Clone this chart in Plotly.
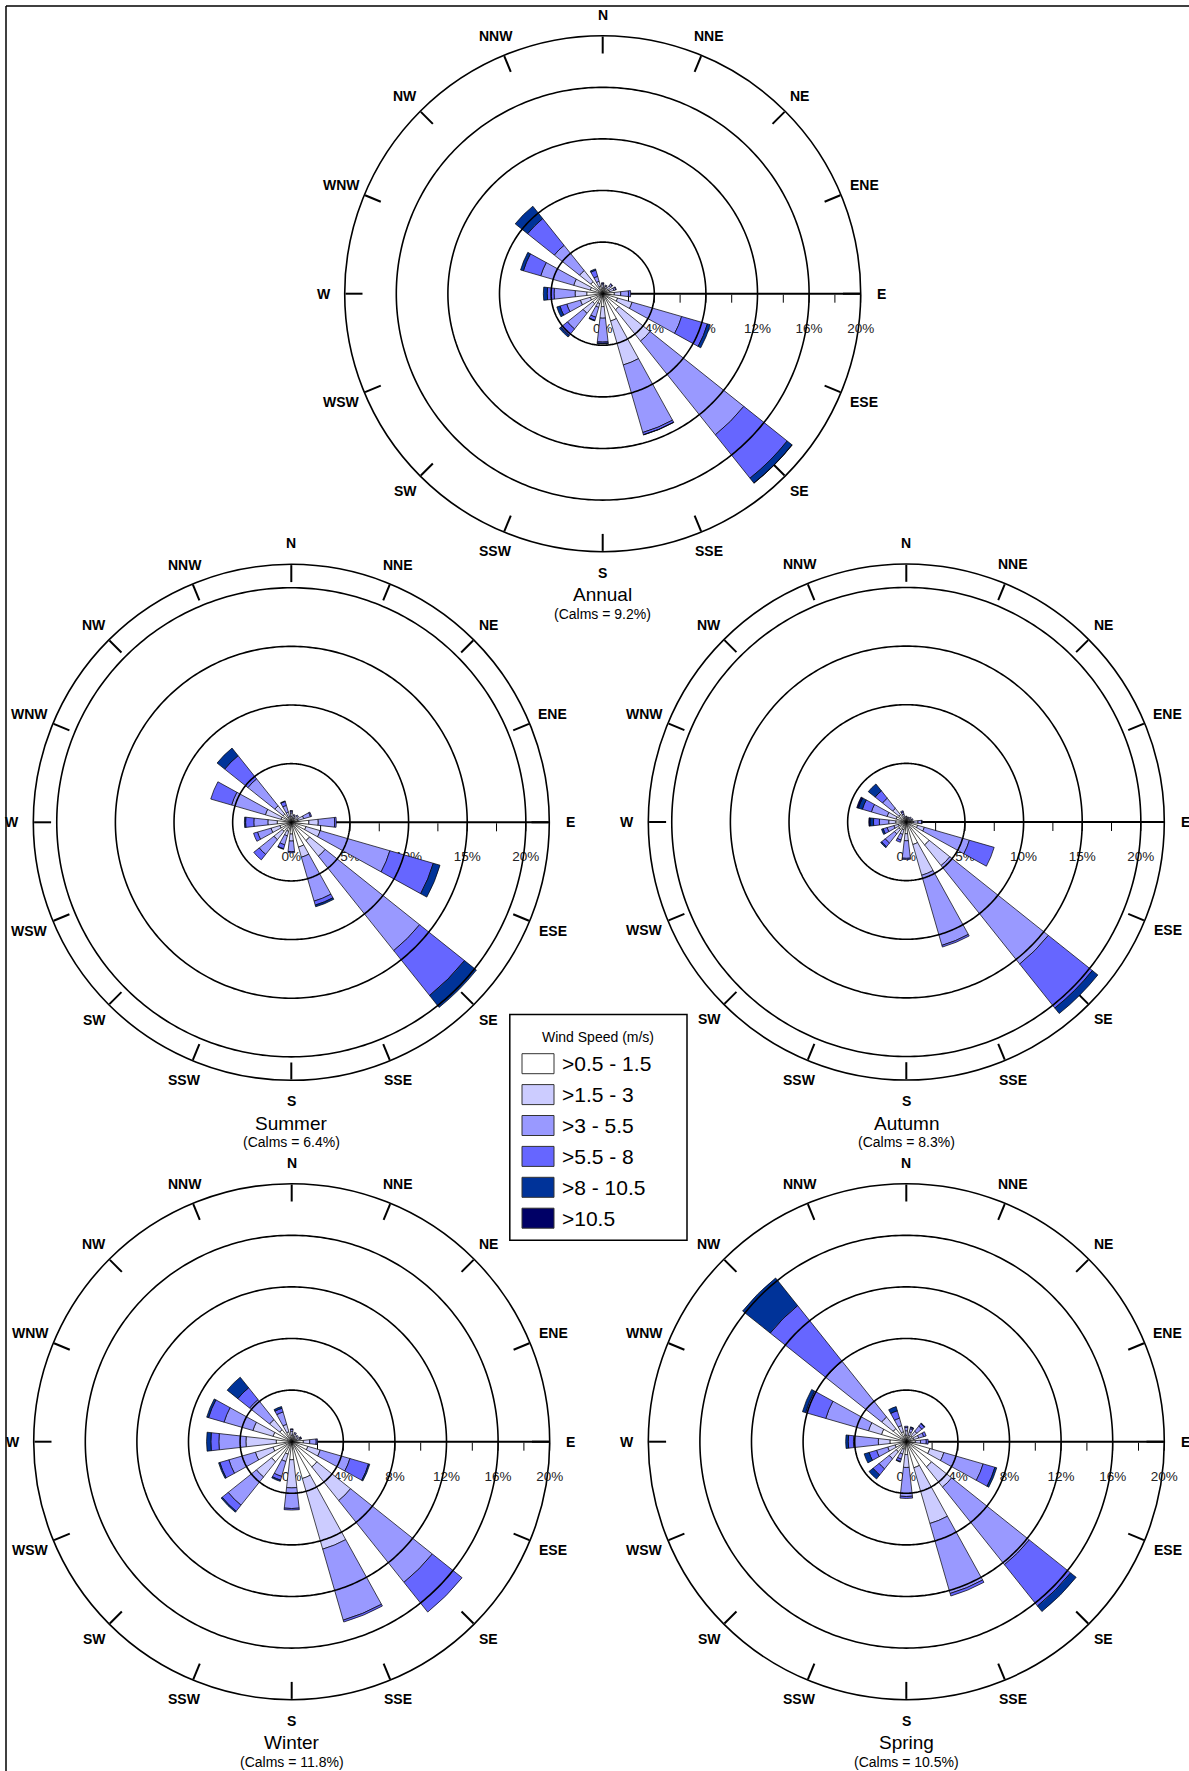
import math
import plotly.graph_objects as go

W, H = 1189, 1771
FONT = "Liberation Sans, Arial, sans-serif"

DIRECTIONS = ["N", "NNE", "NE", "ENE", "E", "ESE", "SE", "SSE",
              "S", "SSW", "SW", "WSW", "W", "WNW", "NW", "NNW"]
DIR_DEG = [i * 22.5 for i in range(16)]

SPEED_CLASSES = [">0.5 - 1.5", ">1.5 - 3", ">3 - 5.5", ">5.5 - 8", ">8 - 10.5", ">10.5"]
CLASS_COLORS = ["#FFFFFF", "#CCCCFF", "#9999FF", "#6666FF", "#003399", "#000066"]

# Frequency (%) per direction (rows N..NNW), columns follow SPEED_CLASSES
ANNUAL = [
    [0.45, 0.25, 0.10, 0.05, 0.00, 0.00],
    [0.40, 0.20, 0.10, 0.00, 0.00, 0.00],
    [0.50, 0.30, 0.15, 0.05, 0.00, 0.00],
    [0.55, 0.35, 0.15, 0.05, 0.00, 0.00],
    [0.90, 0.50, 0.60, 0.17, 0.00, 0.00],
    [1.20, 1.17, 4.00, 2.08, 0.23, 0.00],
    [1.60, 3.10, 9.30, 4.30, 0.48, 0.02],
    [2.20, 3.55, 5.45, 0.18, 0.02, 0.00],
    [1.00, 0.90, 1.85, 0.10, 0.05, 0.00],
    [0.80, 0.30, 0.80, 0.25, 0.05, 0.00],
    [1.00, 0.95, 1.55, 0.65, 0.15, 0.00],
    [1.00, 0.80, 1.10, 0.55, 0.25, 0.00],
    [1.24, 0.90, 1.63, 0.53, 0.30, 0.00],
    [1.00, 1.34, 2.66, 1.40, 0.23, 0.00],
    [1.20, 1.10, 2.50, 2.65, 1.23, 0.00],
    [0.60, 0.40, 0.40, 0.50, 0.10, 0.00],
]

SUMMER = [
    [0.50, 0.30, 0.15, 0.05, 0.00, 0.00],
    [0.40, 0.20, 0.10, 0.00, 0.00, 0.00],
    [0.45, 0.25, 0.10, 0.00, 0.00, 0.00],
    [0.60, 0.50, 0.60, 0.10, 0.00, 0.00],
    [1.50, 0.80, 1.40, 0.14, 0.00, 0.00],
    [1.30, 1.26, 6.19, 3.85, 0.60, 0.00],
    [2.00, 1.70, 10.30, 4.90, 1.30, 0.00],
    [2.20, 0.90, 3.90, 0.35, 0.15, 0.00],
    [1.00, 0.60, 0.90, 0.10, 0.00, 0.00],
    [0.80, 0.40, 0.80, 0.35, 0.05, 0.00],
    [1.00, 0.90, 1.60, 0.60, 0.00, 0.00],
    [1.00, 0.80, 1.20, 0.35, 0.00, 0.00],
    [1.20, 0.80, 1.20, 0.70, 0.10, 0.00],
    [0.90, 1.40, 3.00, 1.85, 0.00, 0.00],
    [0.90, 0.90, 2.94, 2.53, 0.83, 0.00],
    [0.50, 0.40, 0.60, 0.35, 0.05, 0.00],
]

AUTUMN = [
    [0.30, 0.15, 0.05, 0.00, 0.00, 0.00],
    [0.30, 0.10, 0.05, 0.00, 0.00, 0.00],
    [0.30, 0.15, 0.10, 0.00, 0.00, 0.00],
    [0.35, 0.15, 0.10, 0.00, 0.00, 0.00],
    [0.60, 0.40, 0.30, 0.06, 0.00, 0.00],
    [1.00, 0.60, 4.00, 2.20, 0.00, 0.00],
    [2.50, 2.25, 10.75, 4.80, 0.60, 0.00],
    [2.00, 2.73, 6.22, 0.15, 0.00, 0.00],
    [1.00, 0.60, 1.50, 0.10, 0.00, 0.00],
    [0.70, 0.40, 0.50, 0.20, 0.00, 0.00],
    [0.80, 0.50, 1.00, 0.40, 0.10, 0.00],
    [0.70, 0.40, 0.60, 0.35, 0.15, 0.00],
    [0.90, 0.60, 0.80, 0.50, 0.30, 0.10],
    [0.90, 0.80, 1.40, 0.80, 0.35, 0.15],
    [0.80, 0.70, 1.10, 0.80, 0.75, 0.00],
    [0.40, 0.30, 0.20, 0.10, 0.00, 0.00],
]

WINTER = [
    [0.50, 0.30, 0.15, 0.05, 0.00, 0.00],
    [0.40, 0.25, 0.10, 0.00, 0.00, 0.00],
    [0.35, 0.20, 0.10, 0.00, 0.00, 0.00],
    [0.40, 0.25, 0.10, 0.05, 0.00, 0.00],
    [0.90, 0.50, 0.50, 0.10, 0.00, 0.00],
    [1.30, 1.00, 2.40, 1.50, 0.10, 0.00],
    [2.50, 3.34, 8.11, 2.95, 0.00, 0.00],
    [2.97, 5.70, 5.73, 0.15, 0.00, 0.00],
    [1.40, 2.18, 1.60, 0.12, 0.00, 0.00],
    [1.00, 0.60, 1.20, 0.30, 0.10, 0.00],
    [2.00, 1.50, 2.80, 0.60, 0.10, 0.00],
    [1.50, 1.43, 2.14, 0.73, 0.10, 0.00],
    [1.20, 2.35, 2.10, 0.62, 0.33, 0.00],
    [1.50, 1.63, 2.33, 1.25, 0.15, 0.00],
    [1.20, 1.00, 1.98, 1.17, 1.05, 0.00],
    [0.80, 0.60, 1.00, 0.30, 0.14, 0.00],
]

SPRING = [
    [0.50, 0.35, 0.25, 0.10, 0.00, 0.00],
    [0.50, 0.30, 0.25, 0.10, 0.05, 0.00],
    [0.60, 0.45, 0.50, 0.25, 0.05, 0.00],
    [0.60, 0.40, 0.40, 0.20, 0.00, 0.00],
    [0.70, 0.40, 0.45, 0.15, 0.00, 0.00],
    [1.90, 1.13, 3.17, 0.95, 0.15, 0.00],
    [2.50, 2.00, 7.70, 4.10, 0.55, 0.00],
    [2.10, 4.50, 5.65, 0.20, 0.00, 0.00],
    [1.00, 1.00, 2.25, 0.15, 0.00, 0.00],
    [0.60, 0.40, 0.40, 0.20, 0.05, 0.00],
    [1.00, 0.70, 1.00, 0.60, 0.40, 0.00],
    [0.90, 0.60, 0.90, 0.60, 0.40, 0.00],
    [1.27, 0.90, 1.93, 0.40, 0.20, 0.00],
    [2.00, 1.05, 3.45, 1.63, 0.25, 0.00],
    [1.30, 1.15, 5.53, 5.52, 2.74, 0.00],
    [0.80, 0.50, 0.60, 0.60, 0.33, 0.00],
]

ROSE_TITLES = ["Annual", "Summer", "Autumn", "Winter", "Spring"]
ROSE_DATA = [ANNUAL, SUMMER, AUTUMN, WINTER, SPRING]
CALMS = [9.2, 6.4, 8.3, 11.8, 10.5]

# Radial scale of each rose: outer limit, tick step, labelled ring step
RADIAL_MAX = [20, 22, 22, 20, 20]
TICK_STEP = [2, 2.5, 2.5, 2, 2]
RING_STEP = [4, 5, 5, 4, 4]
RING_TOP = [20, 20, 20, 20, 20]

# Layout: pixel centres of the roses and their outer radius
CENTERS = [(602.7, 293.7), (291.3, 822.3), (906.3, 822.0), (291.7, 1441.7), (906.3, 1441.7)]
FRAME_R = 258
BAR_WIDTH = 12.8


def px(x):
    return x / W


def py(y):
    return 1 - y / H


def fmt(v):
    return ("%g" % v) + "%"


fig = go.Figure()
annotations = []
shapes = []
layout_polars = {}

for k, (title, data) in enumerate(zip(ROSE_TITLES, ROSE_DATA)):
    sub = "polar" if k == 0 else "polar%d" % (k + 1)
    cx, cy = CENTERS[k]
    rmax = RADIAL_MAX[k]

    # concentric rings
    ring_theta = [i * 1.0 for i in range(361)]
    v = RING_STEP[k]
    while v <= RING_TOP[k] + 1e-9:
        if abs(v - rmax) > 1e-9:
            fig.add_trace(go.Scatterpolar(
                r=[v] * len(ring_theta), theta=ring_theta, mode="lines",
                line=dict(color="black", width=1.6), hoverinfo="skip",
                showlegend=False, subplot=sub))
        v += RING_STEP[k]

    # stacked speed classes
    for c, (name, color) in enumerate(zip(SPEED_CLASSES, CLASS_COLORS)):
        fig.add_trace(go.Barpolar(
            r=[row[c] for row in data], theta=DIR_DEG, width=BAR_WIDTH,
            name=name, marker=dict(color=color, line=dict(color="black", width=0.7)),
            showlegend=False, subplot=sub))

    # radial ticks; labels sit one short line below the tick marks
    tickvals, ticktext = [], []
    n = int(round(RING_TOP[k] / TICK_STEP[k]))
    for i in range(n + 1):
        t = i * TICK_STEP[k]
        tickvals.append(t)
        if abs(t / RING_STEP[k] - round(t / RING_STEP[k])) < 1e-9:
            ticktext.append("<br><span style='font-size:13.5px'>" + fmt(t) + "</span>")
        else:
            ticktext.append("")

    layout_polars[sub] = dict(
        domain=dict(x=[px(cx - FRAME_R), px(cx + FRAME_R)],
                    y=[py(cy + FRAME_R), py(cy - FRAME_R)]),
        bgcolor="rgba(0,0,0,0)",
        barmode="stack",
        angularaxis=dict(
            rotation=90, direction="clockwise", tickmode="array", tickvals=DIR_DEG,
            showticklabels=False, ticks="inside", ticklen=17, tickwidth=2,
            tickcolor="black", showline=True, linecolor="black", linewidth=1.6,
            showgrid=False, layer="below traces"),
        radialaxis=dict(
            range=[0, rmax], angle=0, side="clockwise", showline=True,
            linecolor="black", linewidth=2, ticks="outside", ticklen=8,
            tickwidth=1.3, tickcolor="black", tickmode="array",
            tickvals=tickvals, ticktext=ticktext, tickangle=0,
            tickfont=dict(family=FONT, size=12, color="#222222"),
            showgrid=False, layer="below traces"),
    )

    # compass labels
    for d, deg in zip(DIRECTIONS, DIR_DEG):
        r = 283 if d in ("ENE", "ESE", "WSW", "WNW") else 279
        a = math.radians(deg)
        annotations.append(dict(
            x=px(cx + r * math.sin(a)), y=py(cy - r * math.cos(a)),
            xref="paper", yref="paper", text="<b>" + d + "</b>", showarrow=False,
            xanchor="center", yanchor="middle",
            font=dict(family=FONT, size=14, color="black")))

    annotations.append(dict(
        x=px(cx), y=py(cy + 301), xref="paper", yref="paper", text=title,
        showarrow=False, xanchor="center", yanchor="middle",
        font=dict(family=FONT, size=19, color="black")))
    annotations.append(dict(
        x=px(cx), y=py(cy + 320), xref="paper", yref="paper",
        text="(Calms = %.1f%%)" % CALMS[k], showarrow=False,
        xanchor="center", yanchor="middle",
        font=dict(family=FONT, size=14, color="black")))

# legend box
LX0, LX1, LY0, LY1 = 509.8, 687.0, 1014.5, 1240.3
shapes.append(dict(type="rect", xref="paper", yref="paper",
                   x0=px(LX0), x1=px(LX1), y0=py(LY1), y1=py(LY0),
                   line=dict(color="black", width=1.5), fillcolor="white", layer="below"))
annotations.append(dict(x=px(598), y=py(1036.5), xref="paper", yref="paper",
                        text="Wind Speed (m/s)", showarrow=False,
                        xanchor="center", yanchor="middle",
                        font=dict(family=FONT, size=14, color="black")))
for i, (name, color) in enumerate(zip(SPEED_CLASSES, CLASS_COLORS)):
    yc = 1063.7 + i * 30.9
    shapes.append(dict(type="rect", xref="paper", yref="paper",
                       x0=px(522), x1=px(554), y0=py(yc + 10), y1=py(yc - 10),
                       line=dict(color="#333333", width=1), fillcolor=color))
    annotations.append(dict(x=px(560), y=py(yc), xref="paper", yref="paper",
                            text=name, showarrow=False, xanchor="left", yanchor="middle",
                            font=dict(family=FONT, size=21, color="black")))

# page frame
shapes.append(dict(type="line", xref="paper", yref="paper",
                   x0=px(6), x1=1.0, y0=py(6), y1=py(6), line=dict(color="black", width=1.5)))
shapes.append(dict(type="line", xref="paper", yref="paper",
                   x0=px(6), x1=px(6), y0=py(6), y1=0.0, line=dict(color="black", width=1.5)))

fig.update_layout(
    width=W, height=H, margin=dict(l=0, r=0, t=0, b=0),
    paper_bgcolor="white", plot_bgcolor="white",
    showlegend=False, annotations=annotations, shapes=shapes,
    **layout_polars)

fig.write_html("out.html")
